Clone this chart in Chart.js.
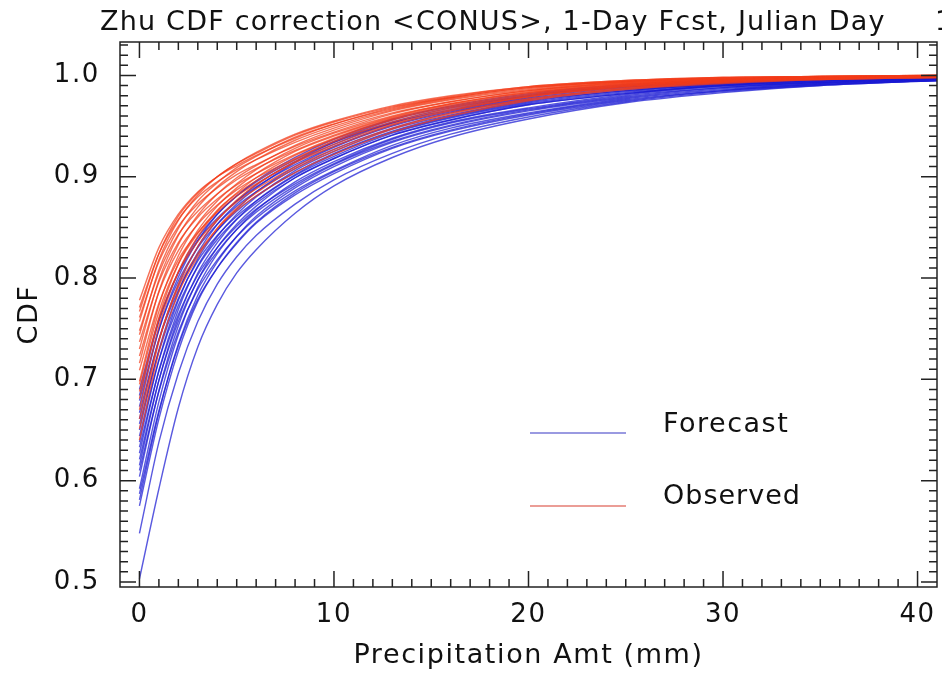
<!DOCTYPE html>
<html>
<head>
<meta charset="utf-8">
<script src="https://cdn.jsdelivr.net/npm/chart.js@4.4.0/dist/chart.umd.min.js"></script>
<style>
  html, body { margin: 0; padding: 0; background: #fff; }
  #wrap { width: 942px; height: 675px; position: relative; }
</style>
</head>
<body>
<div id="wrap"><canvas id="chart"></canvas></div>
<script>
var precipAmt = [0, 1, 2, 3, 4, 5, 6, 8, 10, 13, 16, 20, 25, 30, 35, 41];

// forecast CDF curves (blue), one row per curve
var forecastCdf = [
  [.503, .592, .672, .732, .774, .805, .828, .864, .891, .919, .939, .957, .973, .983, .990, .995],
  [.548, .638, .706, .757, .794, .821, .842, .873, .897, .923, .942, .959, .974, .984, .990, .995],
  [.575, .661, .728, .777, .810, .835, .855, .884, .905, .929, .946, .962, .976, .985, .991, .995],
  [.587, .669, .733, .779, .810, .834, .854, .882, .903, .928, .945, .961, .975, .985, .991, .995],
  [.581, .667, .735, .783, .816, .841, .861, .889, .910, .934, .950, .965, .978, .987, .992, .996],
  [.610, .688, .747, .789, .818, .841, .859, .886, .906, .931, .948, .963, .977, .986, .992, .995],
  [.592, .678, .744, .791, .824, .848, .867, .895, .915, .938, .954, .968, .981, .989, .993, .996],
  [.621, .699, .757, .798, .826, .848, .865, .891, .912, .935, .951, .966, .979, .988, .993, .996],
  [.604, .689, .753, .798, .830, .853, .871, .899, .918, .941, .956, .971, .982, .990, .994, .997],
  [.633, .708, .764, .803, .830, .851, .868, .893, .913, .937, .953, .967, .980, .988, .993, .996],
  [.615, .699, .761, .805, .835, .858, .876, .902, .922, .944, .959, .973, .984, .991, .995, .997],
  [.644, .719, .773, .811, .838, .858, .874, .899, .918, .941, .956, .971, .982, .990, .994, .997],
  [.627, .709, .769, .812, .841, .863, .880, .906, .925, .947, .961, .975, .985, .992, .996, .998],
  [.656, .728, .780, .817, .842, .861, .876, .901, .920, .943, .958, .972, .983, .990, .995, .997],
  [.638, .719, .778, .819, .847, .868, .885, .910, .929, .950, .964, .977, .987, .993, .996, .998],
  [.667, .739, .788, .823, .847, .866, .881, .904, .923, .945, .960, .974, .985, .991, .995, .997],
  [.650, .729, .786, .825, .853, .873, .889, .914, .932, .953, .966, .979, .989, .994, .997, .998],
  [.679, .749, .797, .830, .853, .871, .885, .908, .927, .948, .963, .976, .986, .992, .996, .998],
  [.661, .739, .793, .831, .857, .876, .892, .915, .934, .954, .968, .980, .989, .994, .997, .999],
  [.690, .759, .805, .837, .859, .876, .890, .912, .930, .951, .965, .978, .988, .993, .997, .998],
  [.673, .749, .801, .837, .863, .881, .896, .919, .937, .957, .970, .982, .991, .995, .998, .999],
  [.684, .757, .806, .840, .863, .881, .895, .917, .935, .956, .969, .981, .990, .995, .998, .999]
];

// observed CDF curves (red), one row per curve
var observedCdf = [
  [.640, .727, .785, .821, .849, .869, .884, .908, .925, .947, .962, .976, .987, .993, .996, .998],
  [.661, .739, .791, .824, .849, .867, .881, .904, .922, .944, .960, .975, .986, .992, .996, .998],
  [.651, .737, .794, .831, .857, .877, .892, .915, .932, .952, .966, .979, .989, .994, .997, .999],
  [.688, .759, .806, .836, .858, .875, .888, .910, .927, .948, .963, .977, .987, .993, .996, .998],
  [.670, .752, .806, .841, .866, .884, .899, .921, .937, .956, .969, .981, .990, .995, .997, .999],
  [.709, .775, .818, .845, .865, .881, .893, .914, .930, .951, .965, .979, .988, .994, .997, .999],
  [.681, .761, .814, .847, .871, .889, .903, .925, .940, .958, .971, .983, .991, .995, .998, .999],
  [.723, .786, .827, .853, .872, .887, .899, .918, .935, .954, .968, .980, .989, .994, .997, .999],
  [.698, .773, .822, .854, .876, .893, .907, .928, .943, .960, .972, .984, .992, .996, .998, .999],
  [.737, .796, .835, .860, .878, .892, .903, .922, .938, .957, .970, .982, .990, .995, .997, .999],
  [.716, .787, .833, .862, .883, .899, .911, .931, .946, .963, .974, .985, .993, .996, .998, .999],
  [.748, .805, .843, .866, .883, .897, .908, .926, .941, .959, .972, .983, .991, .996, .998, .999],
  [.730, .798, .842, .870, .890, .905, .917, .936, .950, .966, .977, .987, .994, .997, .999, 1.00],
  [.761, .816, .851, .873, .889, .902, .912, .930, .944, .962, .974, .985, .992, .996, .998, .999],
  [.744, .808, .849, .876, .894, .909, .920, .939, .952, .968, .978, .988, .994, .998, .999, 1.00],
  [.771, .824, .858, .880, .895, .907, .917, .934, .948, .965, .976, .986, .993, .997, .998, 1.00],
  [.757, .818, .857, .882, .900, .913, .924, .942, .955, .970, .980, .989, .995, .998, .999, 1.00],
  [.778, .830, .863, .885, .900, .911, .921, .938, .952, .967, .978, .988, .994, .997, .999, 1.00],
  [.767, .824, .861, .884, .900, .913, .923, .941, .954, .969, .979, .989, .995, .998, .999, 1.00],
  [.695, .767, .814, .844, .867, .883, .896, .917, .934, .953, .967, .980, .989, .994, .997, .999]
];

var xTicks = [0, 10, 20, 30, 40];
var yTicks = [0.5, 0.6, 0.7, 0.8, 0.9, 1.0];

var FONT = '"DejaVu Sans", sans-serif';

function toPoints(row) {
  return row.map(function (v, i) { return { x: precipAmt[i], y: v }; });
}

var datasets = [];
var n = Math.max(forecastCdf.length, observedCdf.length);
for (var i = 0; i < n; i++) {
  if (forecastCdf[i]) {
    datasets.push({ data: toPoints(forecastCdf[i]), borderColor: 'rgba(25,25,210,0.72)' });
  }
  if (observedCdf[i]) {
    datasets.push({ data: toPoints(observedCdf[i]), borderColor: 'rgba(242,60,25,0.72)' });
  }
}

var idlFrame = {
  id: 'idlFrame',
  beforeDraw: function (chart) {
    chart.ctx.letterSpacing = '1.6px';
  },
  afterDatasetsDraw: function (chart) {
    var ctx = chart.ctx, a = chart.chartArea;
    var xs = chart.scales.x, ys = chart.scales.y;
    ctx.save();
    ctx.strokeStyle = '#222';
    ctx.lineWidth = 1.5;
    ctx.beginPath();
    for (var v = 0; v <= 40; v++) {
      var px = xs.getPixelForValue(v);
      var len = v % 10 === 0 ? 16 : 8;
      ctx.moveTo(px, a.bottom); ctx.lineTo(px, a.bottom - len);
      ctx.moveTo(px, a.top); ctx.lineTo(px, a.top + len);
    }
    for (var k = 50; k <= 103; k++) {
      var py = ys.getPixelForValue(k / 100);
      var l = k % 10 === 0 ? 16 : 8;
      ctx.moveTo(a.left, py); ctx.lineTo(a.left + l, py);
      ctx.moveTo(a.right, py); ctx.lineTo(a.right - l, py);
    }
    ctx.stroke();
    ctx.strokeRect(a.left, a.top, a.right - a.left, a.bottom - a.top);
    ctx.restore();
  },
  afterDraw: function (chart) {
    var ctx = chart.ctx;
    ctx.save();
    ctx.letterSpacing = '1.2px';
    ctx.fillStyle = '#111';
    ctx.font = '27px ' + FONT;
    ctx.textBaseline = 'middle';
    ctx.textAlign = 'left';
    ctx.fillText('Zhu CDF correction <CONUS>, 1-Day Fcst, Julian Day', 100, 23);
    ctx.fillText('1', 935, 23);

    // legend
    ctx.lineWidth = 1.5;
    ctx.strokeStyle = 'rgb(120,120,215)';
    ctx.beginPath(); ctx.moveTo(530, 433); ctx.lineTo(626, 433); ctx.stroke();
    ctx.strokeStyle = 'rgb(228,125,115)';
    ctx.beginPath(); ctx.moveTo(530, 506); ctx.lineTo(626, 506); ctx.stroke();
    ctx.letterSpacing = '1.5px';
    ctx.fillText('Forecast', 663, 425);
    ctx.letterSpacing = '1px';
    ctx.fillText('Observed', 663, 497);
    ctx.restore();
  }
};

new Chart(document.getElementById('chart'), {
  type: 'scatter',
  data: { datasets: datasets },
  options: {
    responsive: true,
    maintainAspectRatio: false,
    animation: false,
    devicePixelRatio: 1,
    layout: { padding: { top: 42, right: 5, left: 0, bottom: 0 } },
    datasets: {
      scatter: {
        showLine: true,
        pointRadius: 0,
        borderWidth: 1.4,
        cubicInterpolationMode: 'monotone'
      }
    },
    plugins: {
      legend: { display: false },
      tooltip: { enabled: false },
      title: { display: false }
    },
    scales: {
      x: {
        type: 'linear',
        min: -1,
        max: 41,
        afterFit: function (s) { s.height = 88; },
        afterBuildTicks: function (s) { s.ticks = xTicks.map(function (v) { return { value: v }; }); },
        grid: { display: false },
        border: { display: false },
        ticks: {
          color: '#111',
          font: { family: FONT, size: 26 },
          padding: 5,
          maxRotation: 0,
          autoSkip: false,
          callback: function (v) { return String(v); }
        },
        title: {
          display: true,
          text: 'Precipitation Amt (mm)',
          color: '#111',
          font: { family: FONT, size: 27 },
          padding: { top: 0, bottom: 3 }
        }
      },
      y: {
        type: 'linear',
        min: 0.495,
        max: 1.033,
        afterFit: function (s) { s.width = 120; },
        afterBuildTicks: function (s) { s.ticks = yTicks.map(function (v) { return { value: v }; }); },
        grid: { display: false },
        border: { display: false },
        ticks: {
          color: '#111',
          font: { family: FONT, size: 26 },
          padding: 12,
          callback: function (v) { return v.toFixed(1); }
        },
        title: {
          display: true,
          text: 'CDF',
          color: '#111',
          font: { family: FONT, size: 27 },
          padding: { top: 14, bottom: 0 }
        }
      }
    }
  },
  plugins: [idlFrame]
});
</script>
</body>
</html>
